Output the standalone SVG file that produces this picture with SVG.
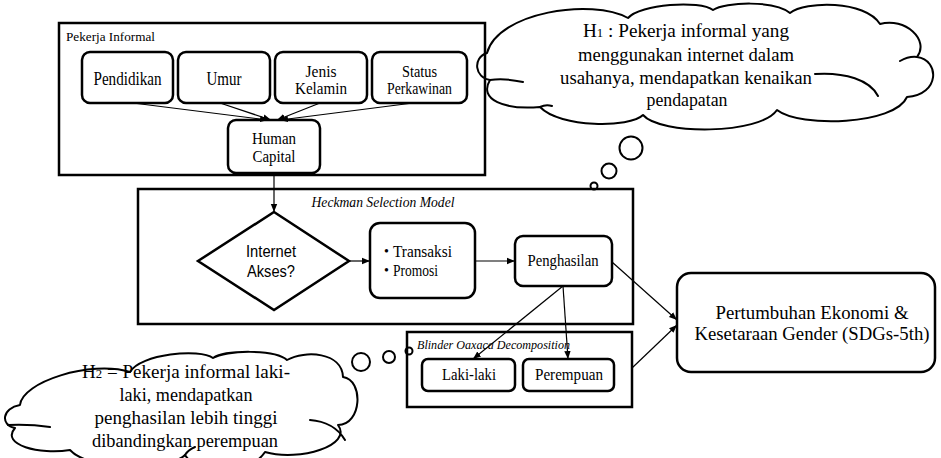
<svg xmlns="http://www.w3.org/2000/svg" width="941" height="458" viewBox="0 0 941 458">
<defs>
<style>
.t{font-family:"Liberation Serif","Times New Roman",serif;fill:#000}
.s{font-family:"Liberation Sans",Arial,sans-serif;fill:#000}
.i{font-style:italic}
.box{fill:#fff;stroke:#000;stroke-width:2.5}
.frame{fill:none;stroke:#000;stroke-width:2.5}
.ln{fill:none;stroke:#000;stroke-width:1.2}
.cloud{fill:#fff;stroke:#000;stroke-width:2;stroke-linejoin:round}
.inner{fill:none;stroke:#000;stroke-width:2;stroke-linecap:round}
.bub{fill:#fff;stroke:#000;stroke-width:2}
</style>
<marker id="arr" viewBox="0 0 10 10" refX="10" refY="5" markerWidth="8" markerHeight="8" markerUnits="userSpaceOnUse" orient="auto">
<path d="M0,1 L10,5 L0,9 z" fill="#000"/>
</marker>
</defs>
<rect width="941" height="458" fill="#fff"/>

<g id="h1-cloud">
<path class="cloud" d="M487,53 C498,12 592,-2 628,18 C640,4 700,0 713,10 C725,2 775,0 790,13 C805,1 865,0 880,24 C905,17 930,40 917,57 C940,60 940,95 907,97 C895,125 800,128 777,110 C760,135 660,135 643,115 C630,128 560,128 540,107 C505,110 478,100 490,80 C475,78 472,58 487,53 Z"/>
<path class="inner" d="M490,80 Q505,78 523,82 M815,74 C845,72 870,80 878,96 M900,61 Q909,56 917,57 M540,107 Q546,104 552,106"/>
<text class="t" font-size="18" x="686" y="37" text-anchor="middle" textLength="206" lengthAdjust="spacingAndGlyphs">H<tspan font-size="12">1</tspan> : Pekerja informal yang</text>
<text class="t" font-size="18" x="686" y="61" text-anchor="middle" textLength="216" lengthAdjust="spacingAndGlyphs">menggunakan internet dalam</text>
<text class="t" font-size="18" x="686" y="84" text-anchor="middle" textLength="252" lengthAdjust="spacingAndGlyphs">usahanya, mendapatkan kenaikan</text>
<text class="t" font-size="18" x="687" y="106" text-anchor="middle" textLength="81" lengthAdjust="spacingAndGlyphs">pendapatan</text>
<circle class="bub" cx="631" cy="148" r="11.5"/>
<circle class="bub" cx="609" cy="171" r="7.5"/>
<circle class="bub" cx="594" cy="186" r="3.5"/>
</g>

<g id="pekerja-informal">
<rect class="frame" x="59" y="23" width="426" height="152"/>
<text class="t" font-size="12.5" x="66" y="41" textLength="89" lengthAdjust="spacingAndGlyphs">Pekerja Informal</text>
</g>
<g id="pendidikan">
<rect class="box" x="82" y="52" width="91" height="51" rx="8"/>
<text class="t" font-size="18" x="127.5" y="85" text-anchor="middle" textLength="68" lengthAdjust="spacingAndGlyphs">Pendidikan</text>
</g>
<g id="umur">
<rect class="box" x="178" y="52" width="92" height="51" rx="8"/>
<text class="t" font-size="18" x="224" y="85" text-anchor="middle" textLength="35" lengthAdjust="spacingAndGlyphs">Umur</text>
</g>
<g id="jenis-kelamin">
<rect class="box" x="275" y="52" width="92" height="51" rx="8"/>
<text class="t" font-size="16" x="321" y="77" text-anchor="middle" textLength="31" lengthAdjust="spacingAndGlyphs">Jenis</text>
<text class="t" font-size="16" x="321" y="94" text-anchor="middle" textLength="52" lengthAdjust="spacingAndGlyphs">Kelamin</text>
</g>
<g id="status-perkawinan">
<rect class="box" x="372" y="52" width="95" height="51" rx="8"/>
<text class="t" font-size="16" x="419.5" y="77" text-anchor="middle" textLength="35" lengthAdjust="spacingAndGlyphs">Status</text>
<text class="t" font-size="16" x="419.5" y="94" text-anchor="middle" textLength="65" lengthAdjust="spacingAndGlyphs">Perkawinan</text>
</g>
<g id="human-capital">
<rect class="box" x="228" y="120" width="92" height="53" rx="8"/>
<text class="t" font-size="16" x="274" y="144" text-anchor="middle" textLength="44" lengthAdjust="spacingAndGlyphs">Human</text>
<text class="t" font-size="16" x="274" y="162" text-anchor="middle" textLength="43" lengthAdjust="spacingAndGlyphs">Capital</text>
</g>

<g id="heckman">
<rect class="frame" x="138" y="189" width="495" height="135"/>
<text class="t i" font-size="14" x="383" y="207" text-anchor="middle" textLength="143" lengthAdjust="spacingAndGlyphs">Heckman Selection Model</text>
</g>
<g id="internet-akses">
<polygon class="box" points="274,212 349,261 274,310 198,261"/>
<text class="s" font-size="17" x="271" y="257" text-anchor="middle" textLength="50" lengthAdjust="spacingAndGlyphs">Internet</text>
<text class="s" font-size="17" x="271" y="277" text-anchor="middle" textLength="48" lengthAdjust="spacingAndGlyphs">Akses?</text>
</g>
<g id="transaksi-promosi">
<rect class="box" x="370" y="223" width="105" height="75" rx="10"/>
<text class="t" font-size="14" x="384" y="256">•</text>
<text class="t" font-size="17" x="393" y="257" textLength="59" lengthAdjust="spacingAndGlyphs">Transaksi</text>
<text class="t" font-size="14" x="384" y="275">•</text>
<text class="t" font-size="17" x="393" y="276" textLength="45" lengthAdjust="spacingAndGlyphs">Promosi</text>
</g>
<g id="penghasilan">
<rect class="box" x="515" y="236" width="97" height="50" rx="8"/>
<text class="t" font-size="17" x="563" y="266" text-anchor="middle" textLength="71" lengthAdjust="spacingAndGlyphs">Penghasilan</text>
</g>

<g id="h2-cloud">
<path class="cloud" d="M20,405 C22,382 90,360 130,372 C140,354 200,348 213,358 C225,350 275,349 287,360 C305,350 342,352 343,377 C364,380 362,425 338,425 C353,445 300,462 265,452 C250,475 200,478 185,455 C170,470 90,472 70,450 C40,455 0,445 15,428 C0,425 2,408 20,405 Z"/>
<path class="inner" d="M8,425 Q30,424 50,427 M310,420 C325,421 338,428 345,440 M185,455 Q188,450 195,447"/>
<text class="t" font-size="18" x="186" y="378" text-anchor="middle" textLength="208" lengthAdjust="spacingAndGlyphs">H<tspan font-size="12">2</tspan> = Pekerja informal laki-</text>
<text class="t" font-size="18" x="186" y="401" text-anchor="middle" textLength="133" lengthAdjust="spacingAndGlyphs">laki, mendapatkan</text>
<text class="t" font-size="18" x="186" y="424" text-anchor="middle" textLength="183" lengthAdjust="spacingAndGlyphs">penghasilan lebih tinggi</text>
<text class="t" font-size="18" x="185" y="447" text-anchor="middle" textLength="186" lengthAdjust="spacingAndGlyphs">dibandingkan perempuan</text>
<circle class="bub" cx="361" cy="362" r="9"/>
<circle class="bub" cx="389" cy="357" r="6"/>
<circle class="bub" cx="409" cy="351" r="3.5"/>
</g>

<g id="blinder-oaxaca">
<rect class="frame" x="407" y="332" width="225" height="75"/>
<text class="t i" font-size="12.5" x="417" y="349" textLength="153" lengthAdjust="spacingAndGlyphs">Blinder Oaxaca Decomposition</text>
</g>
<g id="laki-laki">
<rect class="box" x="422" y="359" width="93" height="32" rx="6"/>
<text class="t" font-size="17" x="469" y="380" text-anchor="middle" textLength="54" lengthAdjust="spacingAndGlyphs">Laki-laki</text>
</g>
<g id="perempuan">
<rect class="box" x="523" y="359" width="91" height="32" rx="6"/>
<text class="t" font-size="17" x="569" y="380" text-anchor="middle" textLength="68" lengthAdjust="spacingAndGlyphs">Perempuan</text>
</g>

<g id="pertumbuhan">
<rect class="box" x="677" y="273" width="258" height="99" rx="14"/>
<text class="t" font-size="19" x="812" y="319" text-anchor="middle" textLength="193" lengthAdjust="spacingAndGlyphs">Pertumbuhan Ekonomi &amp;</text>
<text class="t" font-size="19" x="812" y="340" text-anchor="middle" textLength="235" lengthAdjust="spacingAndGlyphs">Kesetaraan Gender (SDGs-5th)</text>
</g>

<g id="connectors">
<line class="ln" x1="133" y1="103" x2="268" y2="120" marker-end="url(#arr)"/>
<line class="ln" x1="220" y1="103" x2="271" y2="120" marker-end="url(#arr)"/>
<line class="ln" x1="320" y1="103" x2="277" y2="120" marker-end="url(#arr)"/>
<line class="ln" x1="413" y1="103" x2="280" y2="120" marker-end="url(#arr)"/>
<line class="ln" x1="274" y1="173" x2="274" y2="212" marker-end="url(#arr)"/>
<line class="ln" x1="349" y1="261" x2="370" y2="261" marker-end="url(#arr)"/>
<line class="ln" x1="475" y1="261" x2="515" y2="261" marker-end="url(#arr)"/>
<line class="ln" x1="563" y1="286" x2="473" y2="359" marker-end="url(#arr)"/>
<line class="ln" x1="563" y1="286" x2="568" y2="359" marker-end="url(#arr)"/>
<line class="ln" x1="612" y1="262" x2="677" y2="320" marker-end="url(#arr)"/>
<line class="ln" x1="632" y1="368" x2="677" y2="325" marker-end="url(#arr)"/>
</g>
</svg>
